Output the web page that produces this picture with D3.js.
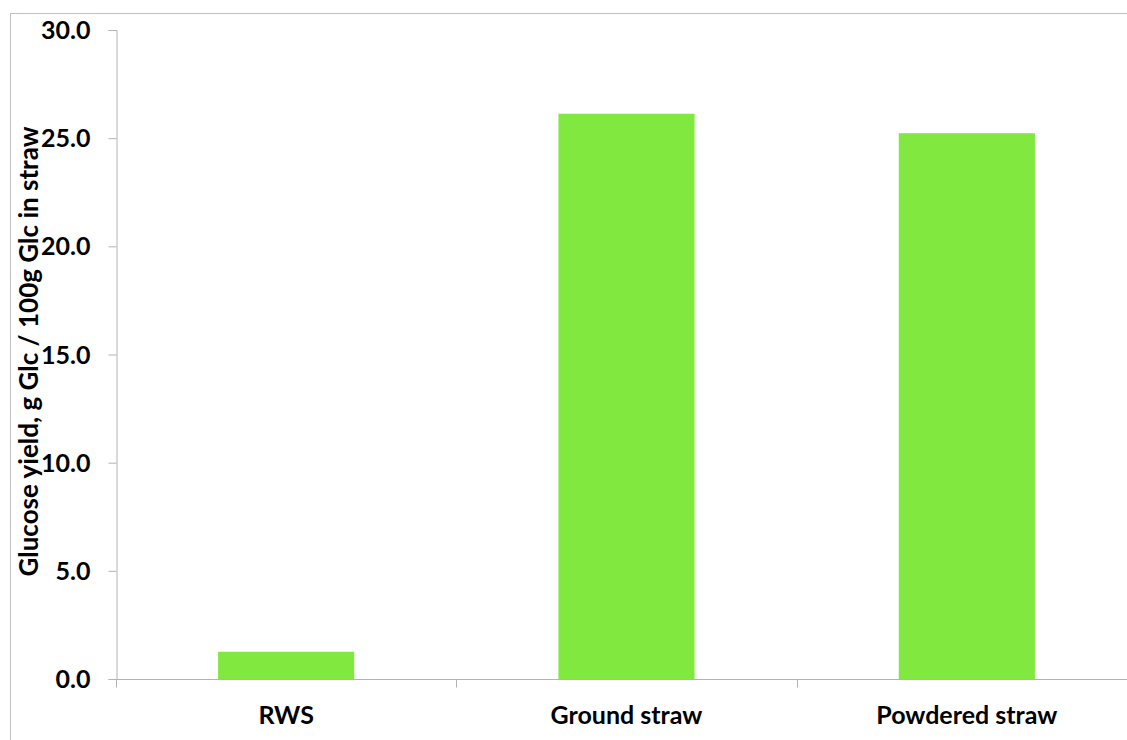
<!DOCTYPE html>
<html>
<head>
<meta charset="utf-8">
<script src="https://cdn.jsdelivr.net/npm/d3@7"></script>
<style>
  html, body { margin: 0; padding: 0; background: #fff; }
  svg { display: block; font-family: Lato, "Open Sans", sans-serif; font-weight: bold; }
</style>
</head>
<body>
<svg id="chart" width="1127" height="740"></svg>
<script>
// Glucose yield per straw preparation
const categories = ["RWS", "Ground straw", "Powdered straw"];
const glucoseYield = [1.26, 26.13, 25.23];
const yTicks = [0, 5, 10, 15, 20, 25, 30];
const yLabel = "Glucose yield, g Glc / 100g Glc in straw";

const svg = d3.select("#chart");
const W = 1127, H = 740;
const plot = { left: 116, right: 1137, top: 30, bottom: 679 };
const axisColor = "#b3b3b3";
const barColor = "#80e83f";

// outer chart frame (only top and left edges fall inside the page)
svg.append("rect")
  .attr("x", 10.5).attr("y", 13.5)
  .attr("width", W + 20).attr("height", H + 20)
  .attr("fill", "none").attr("stroke", "#c0c0c0").attr("stroke-width", 1);

const x = d3.scaleBand()
  .domain(categories)
  .range([plot.left, plot.right])
  .paddingInner(0.6)
  .paddingOuter(0.3);

const y = d3.scaleLinear()
  .domain([0, 30])
  .range([plot.bottom, plot.top]);

// bars
svg.append("g")
  .selectAll("rect")
  .data(categories)
  .join("rect")
  .attr("x", d => x(d))
  .attr("width", x.bandwidth())
  .attr("y", (d, i) => y(glucoseYield[i]))
  .attr("height", (d, i) => y(0) - y(glucoseYield[i]))
  .attr("fill", barColor);

// y axis
const yAxis = svg.append("g")
  .attr("transform", `translate(${plot.left + 0.5},0)`)
  .call(d3.axisLeft(y).tickValues(yTicks).tickFormat(d3.format(".1f")).tickSize(8).tickPadding(18));
yAxis.select(".domain").attr("stroke", axisColor);
yAxis.selectAll(".tick line").attr("stroke", axisColor);
yAxis.selectAll(".tick text")
  .attr("fill", "#000")
  .attr("dy", "0.34em")
  .style("font-size", "25px")
  .style("font-family", "Lato, sans-serif")
  .style("font-weight", "bold");

// x axis: boundary ticks between categories
const step = x.step();
const xStart = x(categories[0]) - x.paddingOuter() * step;
const boundaries = d3.range(categories.length).map(i => xStart + i * step);

const xAxisG = svg.append("g").attr("transform", `translate(0,${plot.bottom + 0.5})`);
xAxisG.append("line")
  .attr("x1", plot.left).attr("x2", plot.right)
  .attr("stroke", axisColor);
xAxisG.selectAll("line.tick")
  .data(boundaries)
  .join("line")
  .attr("class", "tick")
  .attr("x1", d => Math.round(d) + 0.5).attr("x2", d => Math.round(d) + 0.5)
  .attr("y1", 0).attr("y2", 8)
  .attr("stroke", axisColor);
xAxisG.selectAll("text")
  .data(categories)
  .join("text")
  .attr("x", d => x(d) + x.bandwidth() / 2)
  .attr("y", 44)
  .attr("text-anchor", "middle")
  .attr("fill", "#000")
  .style("font-size", "25px")
  .text(d => d);

// y axis title
svg.append("text")
  .attr("transform", `translate(38,${(plot.top + plot.bottom) / 2 - 3}) rotate(-90)`)
  .attr("text-anchor", "middle")
  .attr("fill", "#000")
  .style("font-size", "26px")
  .text(yLabel);
</script>
</body>
</html>
